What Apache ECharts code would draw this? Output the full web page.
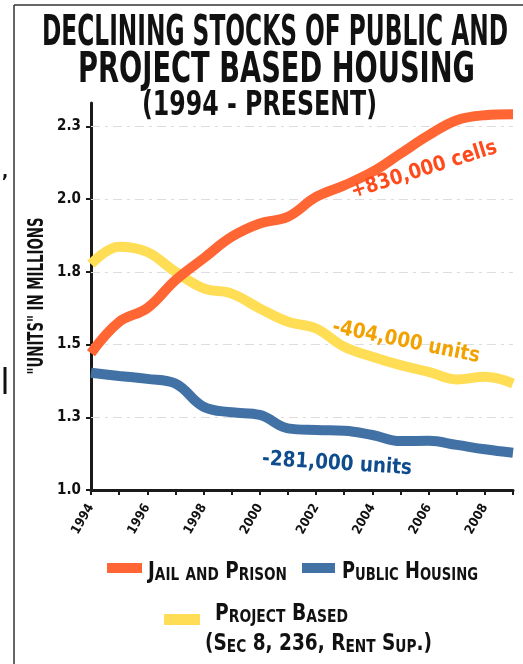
<!DOCTYPE html>
<html><head><meta charset="utf-8">
<script src="https://cdn.jsdelivr.net/npm/echarts@6/dist/echarts.min.js"></script>
<style>html,body{margin:0;padding:0;background:#fff}#c{width:523px;height:664px}</style>
</head><body><div id="c"></div>
<script>
// ---------- data ----------
const years = ['1994','1995','1996','1997','1998','1999','2000','2001','2002','2003','2004','2005','2006','2007','2008','2009'];
const jailPrison    = [1.470,1.578,1.625,1.721,1.796,1.870,1.916,1.939,2.007,2.047,2.093,2.156,2.219,2.271,2.288,2.291];
const publicHousing = [1.403,1.392,1.382,1.366,1.286,1.267,1.258,1.212,1.206,1.204,1.189,1.168,1.169,1.155,1.140,1.128];
const projectBased  = [1.776,1.836,1.818,1.750,1.693,1.675,1.624,1.578,1.555,1.492,1.458,1.429,1.406,1.380,1.389,1.366];
const yTicks = [1.0,1.25,1.5,1.75,2.0,2.25];
const gridLines = [1.25,1.5,1.75,2.0,2.25];
const titleLines = ['DECLINING STOCKS OF PUBLIC AND','PROJECT BASED HOUSING','(1994 - PRESENT)'];
const seriesNames = ['Jail and Prison','Public Housing','Project Based'];
const projectSub = '(Sec 8, 236, Rent Sup.)';
const yName = '"UNITS" IN MILLIONS';
const annotations = ['+830,000 cells','-404,000 units','-281,000 units'];

// ---------- styles ----------
const FAM = '"DejaVu Sans Condensed", "DejaVu Sans", sans-serif';
const COL = {jail:'#ff6633', pub:'#4272a5', proj:'#ffdd55', ink:'#111111'};
const ctx = document.createElement('canvas').getContext('2d');
function measure(t, size, weight){ ctx.font = (weight||'bold') + ' ' + size + 'px ' + FAM; return ctx.measureText(t).width; }
function fit(t, size, target){ return target / measure(t, size); }

function smallCaps(str, big, small){
  let out = '', cur = null, buf = '', w = 0;
  const flush = () => { if (buf) { out += '{' + cur + '|' + buf + '}'; w += measure(buf, cur === 'b' ? big : small); } };
  for (const ch of str){
    const k = (ch !== ch.toUpperCase()) ? 's' : 'b';
    if (k !== cur){ flush(); cur = k; buf = ''; }
    buf += ch.toUpperCase();
  }
  flush();
  return {text: out, width: w};
}

function plainText(t, x, y, size, target, extra){
  return Object.assign({
    type:'text', x:x, y:y, scaleX: fit(t, size, target), z: 10,
    style:{text:t, fill:COL.ink, fontSize:size, fontWeight:'bold', fontFamily:FAM, align:'center', verticalAlign:'middle'}
  }, extra||{});
}

function legendText(str, x, y, target){
  const B = 23, S = 17;
  const sc = smallCaps(str, B, S);
  return {
    type:'text', x:x, y:y, scaleX: target / sc.width, z:10,
    style:{text: sc.text, fill:COL.ink, fontFamily:FAM, fontWeight:'bold', align:'left', verticalAlign:'middle',
      rich:{ b:{fontSize:B, fontWeight:'bold', fontFamily:FAM, fill:COL.ink, verticalAlign:'bottom', lineHeight:24},
             s:{fontSize:S, fontWeight:'bold', fontFamily:FAM, fill:COL.ink, verticalAlign:'bottom', lineHeight:24} } }
  };
}

function annot(t, x, y, deg, target, color){
  const size = 21;
  return {
    type:'text', x:x, y:y, rotation: deg*Math.PI/180, scaleX: fit(t, size, target), z: 10,
    style:{text:t, fill:color, fontSize:size, fontWeight:'bold', fontFamily:FAM, align:'center', verticalAlign:'middle'}
  };
}

const graphics = [
  // frame remnants
  {type:'line', shape:{x1:14, y1:5, x2:523, y2:5}, style:{stroke:'#333', lineWidth:1.5}},
  {type:'line', shape:{x1:14, y1:5, x2:14, y2:664}, style:{stroke:'#333', lineWidth:1.5}},
  {type:'text', x:5, y:172, style:{text:',', fill:'#111', fontSize:18, fontWeight:'bold', fontFamily:FAM, align:'center', verticalAlign:'middle'}},
  {type:'rect', shape:{x:3.5, y:367, width:3, height:27}, style:{fill:'#111'}},
  // title
  plainText(titleLines[0], 275, 34, 43, 466),
  plainText(titleLines[1], 276.5, 71, 42, 397),
  plainText(titleLines[2], 259.5, 106, 33, 235),
  // y axis name
  plainText(yName, 37, 296, 22, 157, {rotation: Math.PI/2}),
  // annotations
  annot(annotations[0], 424, 170, 17.5, 152, '#ff4a1c'),
  annot(annotations[1], 406, 342, -11.5, 150, '#f2a200'),
  annot(annotations[2], 337, 464, -3.7, 150, '#0f4c8e'),
  // legend
  {type:'rect', shape:{x:107, y:563, width:35, height:10}, style:{fill:COL.jail}},
  legendText(seriesNames[0], 148, 572, 139),
  {type:'rect', shape:{x:302, y:563, width:33, height:10}, style:{fill:COL.pub}},
  legendText(seriesNames[1], 342, 572, 136),
  {type:'rect', shape:{x:164, y:614, width:36, height:11}, style:{fill:COL.proj}},
  legendText(seriesNames[2], 215, 614, 133),
  legendText(projectSub, 205, 644, 227)
];

const chart = echarts.init(document.getElementById('c'), null, {renderer:'canvas'});
const lineSeries = (name, data, color, z) => ({
  name, type:'line', data, smooth:0.4, showSymbol:false, symbol:'none', z,
  lineStyle:{color, width:10, cap:'butt'}, itemStyle:{color}, emphasis:{disabled:true}
});
chart.setOption({
  animation:false,
  backgroundColor:'#ffffff',
  grid:{left:91, right:10, top:103, bottom:174, containLabel:false},
  xAxis:{
    type:'category', data:years, boundaryGap:false,
    axisLine:{lineStyle:{color:'#1a1a1a', width:3}},
    axisTick:{show:true, interval:0, length:5, lineStyle:{color:'#1a1a1a', width:2}},
    axisLabel:{interval:1, rotate:60, margin:15, color:'#111', fontSize:13, fontWeight:'bold', fontFamily:FAM},
    splitLine:{show:false}
  },
  yAxis:{
    type:'value', min:1.0, max:2.33, interval:0.25,
    axisLine:{show:true, lineStyle:{color:'#1a1a1a', width:3}},
    axisTick:{show:true, length:5, lineStyle:{color:'#1a1a1a', width:2}, customValues:yTicks},
    axisLabel:{customValues:yTicks, margin:10, color:'#111', fontSize:15, fontWeight:'bold', fontFamily:FAM,
      formatter:v => v.toFixed(1)},
    splitLine:{show:false}
  },
  series:[
    Object.assign(lineSeries(seriesNames[2], projectBased, COL.proj, 3), {
      markLine:{silent:true, z:1, symbol:['none','none'], label:{show:false}, animation:false,
        lineStyle:{color:'#dddddd', type:[9,5,3,5], width:1},
        emphasis:{disabled:true},
        data: gridLines.map(v => ({yAxis:v}))}
    }),
    lineSeries(seriesNames[1], publicHousing, COL.pub, 3),
    lineSeries(seriesNames[0], jailPrison, COL.jail, 4)
  ],
  graphic:{elements:graphics}
});
</script>
</body></html>
